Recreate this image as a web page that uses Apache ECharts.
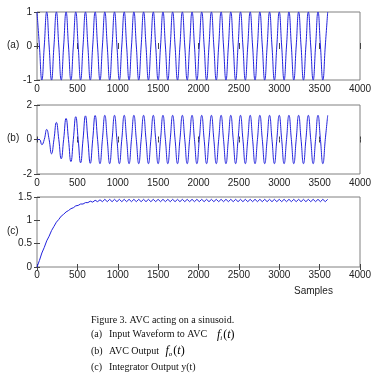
<!DOCTYPE html>
<html>
<head>
<meta charset="utf-8">
<script src="https://cdn.jsdelivr.net/npm/echarts@6/dist/echarts.min.js"></script>
<style>
  html, body { margin: 0; padding: 0; background: #fff; }
  #chart { width: 375px; height: 376px; }
</style>
</head>
<body>
<div id="chart"></div>
<script>
// ---- data ----
const SAMPLE_STEP = 30; // samples between listed points

// (a) input sinusoid: peaks / zero crossings / troughs
const inputWave = [
  1,0,-1,0,1,0,-1,0,1,0,-1,0,1,0,-1,0,1,0,-1,0,1,0,-1,0,
  1,0,-1,0,1,0,-1,0,1,0,-1,0,1,0,-1,0,1,0,-1,0,1,0,-1,0,
  1,0,-1,0,1,0,-1,0,1,0,-1,0,1,0,-1,0,1,0,-1,0,1,0,-1,0,
  1,0,-1,0,1,0,-1,0,1,0,-1,0,1,0,-1,0,1,0,-1,0,1,0,-1,0,
  1,0,-1,0,1,0,-1,0,1,0,-1,0,1,0,-1,0,1,0,-1,0,1,0,-1,0,
  1
];

// (b) AVC output
const avcOutput = [
  0,0,-0.3,0,0.58,0,-0.83,0,0.99,0,-1.12,0,1.22,0,-1.28,0,1.32,0,-1.35,0,1.37,0,-1.38,0,1.39,0,-1.4,0,
  1.4,0,-1.4,0,1.4,0,-1.4,0,1.4,0,-1.4,0,1.4,0,-1.4,0,1.4,0,-1.4,0,1.4,0,-1.4,0,
  1.4,0,-1.4,0,1.4,0,-1.4,0,1.4,0,-1.4,0,1.4,0,-1.4,0,1.4,0,-1.4,0,1.4,0,-1.4,0,
  1.4,0,-1.4,0,1.4,0,-1.4,0,1.4,0,-1.4,0,1.4,0,-1.4,0,1.4,0,-1.4,0,1.4,0,-1.4,0,
  1.4,0,-1.4,0,1.4,0,-1.4,0,1.4,0,-1.4,0,1.4,0,-1.4,0,1.4,0,-1.4,0,
  1.4
];

// (c) integrator output
const integratorOutput = [
  0,0.14,0.3,0.42,0.56,0.66,0.78,0.87,0.96,1.02,1.09,1.13,1.18,1.21,1.25,1.27,1.31,1.32,1.35,1.35,
  1.38,1.38,1.41,1.39,1.43,1.40,1.44,1.40,
  1.45,1.4,1.45,1.4,1.45,1.4,1.45,1.4,1.45,1.4,1.45,1.4,1.45,1.4,1.45,1.4,1.45,1.4,1.45,1.4,
  1.45,1.4,1.45,1.4,1.45,1.4,1.45,1.4,1.45,1.4,1.45,1.4,1.45,1.4,1.45,1.4,1.45,1.4,1.45,1.4,
  1.45,1.4,1.45,1.4,1.45,1.4,1.45,1.4,1.45,1.4,1.45,1.4,1.45,1.4,1.45,1.4,1.45,1.4,1.45,1.4,
  1.45,1.4,1.45,1.4,1.45,1.4,1.45,1.4,1.45,1.4,1.45,1.4,1.45,1.4,1.45,1.4,1.45,1.4,1.45,1.4,
  1.45,1.4,1.45,1.4,1.45,1.4,1.45,1.4,1.45,1.4,1.45,1.4,
  1.45
];

const xRange = { min: 0, max: 4000, interval: 500 };
const yRanges = [
  { min: -1, max: 1, interval: 1 },
  { min: -2, max: 2, interval: 2 },
  { min: 0, max: 1.5, interval: 0.5 }
];
const panelLabels = ['(a)', '(b)', '(c)'];
const xAxisName = 'Samples';

// ---- chart ----
const toPairs = arr => arr.map((v, i) => [i * SAMPLE_STEP, v]);
const seriesData = [inputWave, avcOutput, integratorOutput].map(toPairs);

const LABEL_FONT = { fontFamily: 'Liberation Sans', fontSize: 10, color: '#222' };
const LINE_COLOR = '#2222dd';

const grids = [
  { left: 37, right: 15, top: 12, height: 68 },
  { left: 37, right: 15, top: 105, height: 69 },
  { left: 37, right: 15, top: 197, height: 70 }
].map(g => Object.assign({ show: true, borderColor: '#808080', borderWidth: 1, backgroundColor: '#fff' }, g));

const xAxes = [], yAxes = [], series = [];
grids.forEach((g, i) => {
  xAxes.push({
    type: 'value', gridIndex: i, position: 'bottom',
    min: xRange.min, max: xRange.max, interval: xRange.interval,
    axisLine: { show: false },
    axisTick: { show: true, inside: true, length: 3, lineStyle: { color: '#444' } },
    axisLabel: Object.assign({ show: true, margin: i === 2 ? 3 : 4, formatter: v => String(v) }, LABEL_FONT),
    splitLine: { show: false }
  });
  xAxes.push({
    type: 'value', gridIndex: i, position: 'top',
    min: xRange.min, max: xRange.max, interval: xRange.interval,
    axisLine: { show: false },
    axisTick: { show: true, inside: true, length: 3, lineStyle: { color: '#444' } },
    axisLabel: { show: false },
    splitLine: { show: false }
  });
  yAxes.push({
    type: 'value', gridIndex: i, position: 'left',
    min: yRanges[i].min, max: yRanges[i].max, interval: yRanges[i].interval,
    axisLine: { show: false },
    axisTick: { show: true, inside: true, length: 3, lineStyle: { color: '#444' } },
    axisLabel: Object.assign({ show: true, margin: 5 }, LABEL_FONT),
    splitLine: { show: false }
  });
  yAxes.push({
    type: 'value', gridIndex: i, position: 'right',
    min: yRanges[i].min, max: yRanges[i].max, interval: yRanges[i].interval,
    axisLine: { show: false },
    axisTick: { show: true, inside: true, length: 3, lineStyle: { color: '#444' } },
    axisLabel: { show: false },
    splitLine: { show: false }
  });
  series.push({
    type: 'line',
    xAxisIndex: 2 * i, yAxisIndex: 2 * i,
    data: seriesData[i],
    showSymbol: false, symbol: 'none',
    smooth: i < 2 ? 0.5 : false,
    lineStyle: { color: LINE_COLOR, width: 1 },
    silent: true
  });
});

const panelCenters = [46, 139.5, 232];
const graphics = panelLabels.map((t, i) => ({
  type: 'text', left: 7, top: panelCenters[i] - 6,
  style: { text: t, font: '10px "Liberation Sans"', fill: '#222' }
}));
graphics.push({
  type: 'text', left: 294, top: 286,
  style: { text: xAxisName, font: '10px "Liberation Sans"', fill: '#222' }
});

const serif = '10px "Liberation Serif"';
const captionLines = [
  { x: 91, y: 320, text: 'Figure 3. AVC acting on a sinusoid.' },
  { x: 91, y: 334.5, text: '(a)' },
  { x: 109, y: 334.5, text: 'Input Waveform to AVC' },
  { x: 91, y: 351, text: '(b)' },
  { x: 109, y: 351, text: 'AVC Output' },
  { x: 91, y: 367.5, text: '(c)' },
  { x: 109, y: 367.5, text: 'Integrator Output y(t)' }
];
captionLines.forEach(c => graphics.push({
  type: 'text', x: c.x, y: c.y,
  style: { text: c.text, font: serif, fill: '#111', textVerticalAlign: 'middle', verticalAlign: 'middle' }
}));
const mathRich = {
  f: { fontFamily: 'Liberation Serif', fontStyle: 'italic', fontSize: 12, color: '#111' },
  s: { fontFamily: 'Liberation Serif', fontStyle: 'italic', fontSize: 7, color: '#111', padding: [7, 1, 0, 0] },
  p: { fontFamily: 'Liberation Serif', fontSize: 12, color: '#111' }
};
[{ x: 217, y: 334.5, sub: 'i' }, { x: 165.5, y: 351, sub: 'o' }].forEach(m => graphics.push({
  type: 'text', x: m.x, y: m.y,
  style: {
    text: '{f|f}{s|' + m.sub + '}{p|(}{f|t}{p|)}',
    rich: mathRich, verticalAlign: 'middle', textVerticalAlign: 'middle'
  }
}));

const chart = echarts.init(document.getElementById('chart'), null, { renderer: 'canvas' });
chart.setOption({
  animation: false,
  backgroundColor: '#fff',
  grid: grids,
  xAxis: xAxes,
  yAxis: yAxes,
  series: series,
  graphic: graphics
});
</script>
</body>
</html>
